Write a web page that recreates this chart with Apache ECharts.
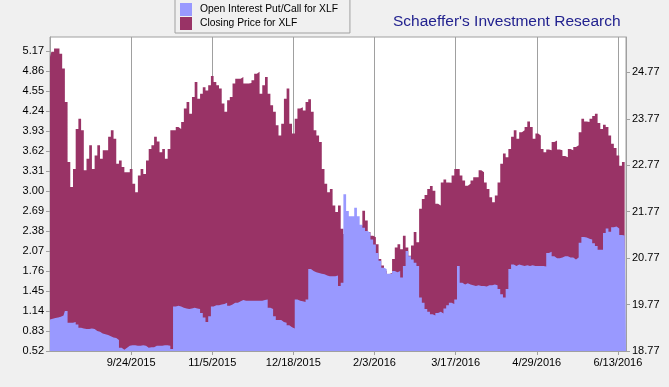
<!DOCTYPE html>
<html>
<head>
<meta charset="utf-8">
<script src="https://cdn.jsdelivr.net/npm/echarts@6/dist/echarts.min.js"></script>
<style>
html,body{margin:0;padding:0;background:#f0f0f0;}
#chart{width:669px;height:387px;}
</style>
</head>
<body>
<div id="chart"></div>
<script>
// Trading days 8/12/2015 .. 6/16/2016
const categories = [
"8/12/2015","8/13/2015","8/14/2015","8/17/2015","8/18/2015","8/19/2015","8/20/2015","8/21/2015","8/24/2015","8/25/2015","8/26/2015","8/27/2015","8/28/2015","8/31/2015",
"9/1/2015","9/2/2015","9/3/2015","9/4/2015","9/8/2015","9/9/2015","9/10/2015","9/11/2015","9/14/2015","9/15/2015","9/16/2015","9/17/2015","9/18/2015","9/21/2015","9/22/2015","9/23/2015","9/24/2015","9/25/2015","9/28/2015","9/29/2015","9/30/2015",
"10/1/2015","10/2/2015","10/5/2015","10/6/2015","10/7/2015","10/8/2015","10/9/2015","10/12/2015","10/13/2015","10/14/2015","10/15/2015","10/16/2015","10/19/2015","10/20/2015","10/21/2015","10/22/2015","10/23/2015","10/26/2015","10/27/2015","10/28/2015","10/29/2015","10/30/2015",
"11/2/2015","11/3/2015","11/4/2015","11/5/2015","11/6/2015","11/9/2015","11/10/2015","11/11/2015","11/12/2015","11/13/2015","11/16/2015","11/17/2015","11/18/2015","11/19/2015","11/20/2015","11/23/2015","11/24/2015","11/25/2015","11/27/2015","11/30/2015",
"12/1/2015","12/2/2015","12/3/2015","12/4/2015","12/7/2015","12/8/2015","12/9/2015","12/10/2015","12/11/2015","12/14/2015","12/15/2015","12/16/2015","12/17/2015","12/18/2015","12/21/2015","12/22/2015","12/23/2015","12/24/2015","12/28/2015","12/29/2015","12/30/2015","12/31/2015",
"1/4/2016","1/5/2016","1/6/2016","1/7/2016","1/8/2016","1/11/2016","1/12/2016","1/13/2016","1/14/2016","1/15/2016","1/19/2016","1/20/2016","1/21/2016","1/22/2016","1/25/2016","1/26/2016","1/27/2016","1/28/2016","1/29/2016",
"2/1/2016","2/2/2016","2/3/2016","2/4/2016","2/5/2016","2/8/2016","2/9/2016","2/10/2016","2/11/2016","2/12/2016","2/16/2016","2/17/2016","2/18/2016","2/19/2016","2/22/2016","2/23/2016","2/24/2016","2/25/2016","2/26/2016","2/29/2016",
"3/1/2016","3/2/2016","3/3/2016","3/4/2016","3/7/2016","3/8/2016","3/9/2016","3/10/2016","3/11/2016","3/14/2016","3/15/2016","3/16/2016","3/17/2016","3/18/2016","3/21/2016","3/22/2016","3/23/2016","3/24/2016","3/28/2016","3/29/2016","3/30/2016","3/31/2016",
"4/1/2016","4/4/2016","4/5/2016","4/6/2016","4/7/2016","4/8/2016","4/11/2016","4/12/2016","4/13/2016","4/14/2016","4/15/2016","4/18/2016","4/19/2016","4/20/2016","4/21/2016","4/22/2016","4/25/2016","4/26/2016","4/27/2016","4/28/2016","4/29/2016",
"5/2/2016","5/3/2016","5/4/2016","5/5/2016","5/6/2016","5/9/2016","5/10/2016","5/11/2016","5/12/2016","5/13/2016","5/16/2016","5/17/2016","5/18/2016","5/19/2016","5/20/2016","5/23/2016","5/24/2016","5/25/2016","5/26/2016","5/27/2016","5/31/2016",
"6/1/2016","6/2/2016","6/3/2016","6/6/2016","6/7/2016","6/8/2016","6/9/2016","6/10/2016","6/13/2016","6/14/2016","6/15/2016","6/16/2016"
];

// Closing price for XLF (right axis)
const closingPrice = [
25.10,25.21,25.28,25.28,25.17,24.85,24.13,22.84,22.30,22.69,23.55,23.77,23.52,22.66,22.91,23.20,22.69,22.98,23.20,22.91,
23.09,23.09,23.38,23.52,23.34,22.80,22.87,22.73,22.62,22.62,22.69,22.37,22.19,22.55,22.69,22.58,22.87,23.12,23.20,23.38,
23.28,23.05,23.12,22.91,23.12,23.52,23.52,23.59,23.55,23.70,23.99,24.13,23.88,24.24,24.56,24.20,24.31,24.45,24.38,24.49,
24.69,24.56,24.49,24.42,24.10,23.92,24.17,24.24,24.53,24.63,24.63,24.67,24.53,24.53,24.54,24.60,24.74,24.78,24.31,24.49,
24.67,24.31,24.06,23.92,23.63,23.41,23.66,24.20,24.42,23.66,23.45,23.77,23.99,24.02,23.95,24.13,24.19,23.92,23.52,23.41,
23.27,22.69,22.37,22.19,22.26,21.90,21.76,21.90,21.40,21.29,21.25,21.25,21.29,21.33,21.40,21.47,21.79,21.58,21.33,21.25,
21.22,21.07,20.75,20.61,20.50,20.43,20.45,20.75,21.00,21.07,20.96,21.25,21.00,20.82,21.04,21.33,21.11,21.83,22.04,22.13,
22.26,22.32,22.22,21.94,21.90,22.40,22.46,22.40,22.39,22.55,22.69,22.69,22.55,22.44,22.33,22.37,22.44,22.51,22.51,22.66,
22.62,22.40,22.26,22.08,21.97,22.12,22.40,22.80,23.02,22.94,23.12,23.38,23.52,23.34,23.48,23.52,23.59,23.71,23.59,23.34,
23.45,23.41,23.12,23.05,23.11,23.09,23.27,23.30,23.11,23.09,22.97,22.94,23.12,23.09,23.16,23.20,23.48,23.77,23.71,23.70,
23.77,23.83,23.88,23.68,23.55,23.64,23.59,23.41,23.23,23.14,22.98,22.76,22.84,null
];

// Open interest put/call ratio for XLF (left axis)
const putCallRatio = [
1.01,1.02,1.03,1.04,1.05,1.07,1.14,0.96,0.96,0.97,0.93,0.88,0.87,0.86,0.86,0.87,0.86,0.83,0.82,0.79,
0.78,0.77,0.75,0.73,0.72,0.69,0.57,0.54,0.57,0.60,0.61,0.61,0.60,0.60,0.61,0.60,0.57,0.58,0.58,0.60,
0.60,0.60,0.61,0.61,0.60,0.55,1.21,1.22,1.21,1.19,1.18,1.17,1.18,1.19,1.18,1.17,1.11,1.04,0.97,1.06,
1.21,1.23,1.23,1.24,1.25,1.27,1.22,1.24,1.27,1.27,1.29,1.31,1.30,1.30,1.30,1.30,1.30,1.30,1.30,1.31,
1.32,1.19,1.17,1.06,1.00,1.00,0.97,0.96,0.92,0.89,0.87,1.32,1.30,1.29,1.28,1.32,1.79,1.76,1.74,1.73,
1.72,1.71,1.69,1.68,1.68,1.68,1.69,1.53,1.58,2.95,2.69,2.61,2.61,2.74,2.61,2.48,2.43,2.38,2.35,2.25,
2.17,2.04,1.92,1.81,1.79,1.72,1.72,1.76,1.74,1.76,1.66,1.84,2.07,1.99,1.94,1.89,1.84,1.35,1.27,1.17,
1.13,1.09,1.07,1.11,1.13,1.10,1.18,1.23,1.27,1.25,1.32,1.84,1.58,1.55,1.57,1.55,1.54,1.53,1.54,1.53,
1.53,1.52,1.54,1.54,1.55,1.54,1.48,1.40,1.35,1.48,1.79,1.86,1.84,1.86,1.85,1.84,1.85,1.84,1.85,1.84,
1.84,1.84,1.84,1.83,2.04,2.06,1.99,1.96,1.96,1.97,1.99,1.99,1.97,1.97,1.94,1.97,2.20,2.29,2.28,2.26,
2.25,2.19,2.15,2.09,2.09,2.35,2.42,2.37,2.44,2.45,2.42,2.32,2.31,2.31
];

const leftTicks = [0.52,0.83,1.14,1.45,1.76,2.07,2.38,2.69,3.00,3.31,3.62,3.93,4.24,4.55,4.86,5.17];
const rightTicks = [18.77,19.77,20.77,21.77,22.77,23.77,24.77];
const seriesNames = ["Open Interest Put/Call for XLF","Closing Price for XLF"];

const FONT = "Liberation Sans";
const chart = echarts.init(document.getElementById('chart'), null, {renderer:'canvas'});
const every30 = (idx) => idx > 0 && idx % 30 === 0;

chart.setOption({
  animation: false,
  backgroundColor: '#f0f0f0',
  title: {
    text: "Schaeffer's Investment Research",
    left: 388, top: 9,
    textStyle: {color:'#22228f', fontSize:15.5, fontWeight:'normal', fontFamily:FONT}
  },
  legend: {
    data: seriesNames,
    orient: 'vertical',
    left: 175, top: -1,
    padding: [4, 12, 3, 5],
    itemWidth: 12, itemHeight: 13, itemGap: 1,
    icon: 'rect',
    backgroundColor: '#f0f0f0',
    borderColor: '#a0a0a0', borderWidth: 1,
    textStyle: {color:'#000', fontSize:10.3, fontFamily:FONT, padding:[0,0,0,3]}
  },
  grid: {
    left: 50, right: 43, top: 37, bottom: 36,
    show: true, backgroundColor: '#ffffff', borderColor: '#a0a0a0', borderWidth: 1,
    containLabel: false
  },
  xAxis: {
    type: 'category',
    data: categories,
    boundaryGap: false,
    axisLine: {show:true, lineStyle:{color:'#a0a0a0'}},
    axisTick: {show:true, interval: every30, length:4, lineStyle:{color:'#a0a0a0'}},
    splitLine: {show:true, interval: every30, lineStyle:{color:'#a0a0a0', width:1}},
    axisLabel: {interval: every30, margin:6, color:'#000', fontSize:11, fontFamily:FONT}
  },
  yAxis: [
    {
      type: 'value', position: 'left',
      min: 0.52, max: 5.39,
      splitLine: {show:false},
      axisLine: {show:true, lineStyle:{color:'#a0a0a0'}},
      axisTick: {show:true, customValues: leftTicks, length:4, lineStyle:{color:'#a0a0a0'}},
      axisLabel: {customValues: leftTicks, margin:6, color:'#000', fontSize:11, fontFamily:FONT,
                  formatter: v => v.toFixed(2)}
    },
    {
      type: 'value', position: 'right',
      min: 18.77, max: 25.53,
      splitLine: {show:false},
      axisLine: {show:true, lineStyle:{color:'#a0a0a0'}},
      axisTick: {show:true, customValues: rightTicks, length:4, lineStyle:{color:'#a0a0a0'}},
      axisLabel: {customValues: rightTicks, margin:6, color:'#000', fontSize:11, fontFamily:FONT,
                  formatter: v => v.toFixed(2)}
    }
  ],
  series: [
    {
      name: seriesNames[1], type: 'line', yAxisIndex: 1, data: closingPrice,
      step: 'middle', showSymbol: false, symbol: 'none', sampling: null,
      itemStyle: {color:'#993366'},
      lineStyle: {width:0, color:'#993366'},
      areaStyle: {color:'#993366', opacity:1, origin:'start'},
      z: 2
    },
    {
      name: seriesNames[0], type: 'line', yAxisIndex: 0, data: putCallRatio,
      step: 'middle', showSymbol: false, symbol: 'none',
      itemStyle: {color:'#9999ff'},
      lineStyle: {width:0, color:'#9999ff'},
      areaStyle: {color:'#9999ff', opacity:1, origin:'start'},
      z: 3
    }
  ]
});
</script>
</body>
</html>
